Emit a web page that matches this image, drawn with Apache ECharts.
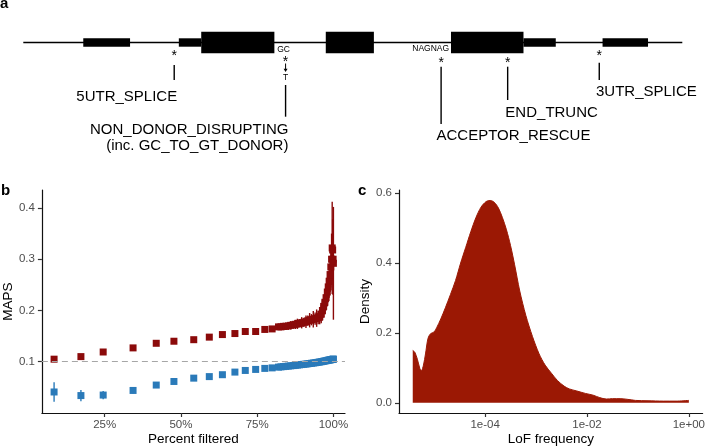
<!DOCTYPE html>
<html><head><meta charset="utf-8">
<script src="https://cdn.jsdelivr.net/npm/echarts@6/dist/echarts.min.js"></script>
<style>html,body{margin:0;padding:0;background:#fff}#c{width:708px;height:447px}</style>
</head><body><div id="c"></div>
<script>
// ================= DATA =================
// Panel a: gene model (arbitrary gene coordinates 0..geneLength)
const geneLength = 1000;
const exonStart = [91, 236, 270, 459, 649, 759, 879];
const exonEnd   = [162, 270, 381, 532, 759, 808, 948];
const exonKind  = ['UTR', 'UTR', 'CDS', 'CDS', 'CDS', 'UTR', 'UTR'];
const annotNames = ['5UTR_SPLICE', 'NON_DONOR_DISRUPTING\n(inc. GC_TO_GT_DONOR)', 'ACCEPTOR_RESCUE', 'END_TRUNC', '3UTR_SPLICE'];
const annotPos   = [229, 398, 634, 735, 874];
const annotSeqAbove = ['', 'GC', 'NAGNAG', '', ''];
const annotSeqBelow = ['', 'T', '', '', ''];

// Panel b: MAPS vs percent filtered
const pctFiltered = [8.4, 17.2, 24.5, 34.3, 41.9, 47.7, 54.2, 59.3, 63.6, 67.7, 71.1, 74.5, 77.5, 79.9,
  82.0, 82.8, 83.6, 84.4, 85.2, 86.0, 86.8, 87.5, 88.2, 88.9, 89.6, 90.3, 91.0, 91.6, 92.2, 92.8, 93.4, 94.0,
  94.5, 95.0, 95.5, 96.0, 96.4, 96.8, 97.2, 97.6, 98.0, 98.3, 98.6, 98.9, 99.15, 99.4, 99.6, 99.75, 99.9, 100.0];
const redMaps = [0.105, 0.110, 0.119, 0.127, 0.136, 0.140, 0.143, 0.148, 0.153, 0.155, 0.159, 0.159, 0.163, 0.164,
  0.168, 0.168, 0.169, 0.169, 0.170, 0.171, 0.172, 0.173, 0.174, 0.175, 0.176, 0.177, 0.178, 0.180, 0.181, 0.182, 0.183, 0.184,
  0.185, 0.186, 0.188, 0.193, 0.200, 0.208, 0.216, 0.225, 0.236, 0.246, 0.257, 0.270, 0.285, 0.300, 0.322, 0.318, 0.300, 0.292];
const redErr = [0.005, 0.005, 0.005, 0.005, 0.005, 0.005, 0.005, 0.005, 0.005, 0.005, 0.005, 0.005, 0.005, 0.005,
  0.006, 0.006, 0.007, 0.006, 0.007, 0.008, 0.007, 0.009, 0.010, 0.008, 0.011, 0.009, 0.012, 0.010, 0.014, 0.011, 0.016, 0.012,
  0.017, 0.013, 0.015, 0.018, 0.020, 0.022, 0.024, 0.025, 0.028, 0.030, 0.032, 0.034, 0.040, 0.050, 0.090, 0.060, 0.070, 0.110];
const blueMaps = [0.041, 0.034, 0.035, 0.044, 0.0545, 0.0615, 0.068, 0.071, 0.0747, 0.0798, 0.083, 0.085, 0.087, 0.088,
  0.0895, 0.090, 0.0905, 0.091, 0.0915, 0.092, 0.0925, 0.093, 0.0935, 0.094, 0.0945, 0.095, 0.0955, 0.096, 0.0965, 0.097, 0.0975, 0.098,
  0.0985, 0.099, 0.0995, 0.100, 0.1005, 0.101, 0.1015, 0.102, 0.1025, 0.103, 0.1033, 0.1036, 0.104, 0.1043, 0.1045, 0.1047, 0.1048, 0.105];
const blueErr = [0.019, 0.011, 0.008, 0.006, 0.005, 0.004, 0.004, 0.003, 0.003, 0.003, 0.003, 0.003, 0.003, 0.003,
  0.002, 0.002, 0.002, 0.002, 0.002, 0.002, 0.002, 0.002, 0.002, 0.002, 0.002, 0.002, 0.002, 0.002, 0.002, 0.002, 0.002, 0.002,
  0.002, 0.002, 0.002, 0.002, 0.002, 0.002, 0.002, 0.002, 0.002, 0.002, 0.002, 0.002, 0.002, 0.002, 0.002, 0.002, 0.002, 0.002];
const mapsReference = 0.105;
const bXTicks = [25, 50, 75, 100];
const bYTicks = [0.1, 0.2, 0.3, 0.4];

// Panel c: density of LoF frequency (log10 x)
const lofFreq = [3.80e-6, 4.17e-6, 4.68e-6, 5.25e-6, 5.62e-6, 6.17e-6, 6.76e-6, 7.59e-6, 8.51e-6, 1.00e-5,
  1.12e-5, 1.35e-5, 1.66e-5, 2.09e-5, 2.63e-5, 3.31e-5, 4.17e-5, 5.25e-5, 6.61e-5, 8.32e-5,
  1.05e-4, 1.26e-4, 1.51e-4, 1.82e-4, 2.19e-4, 2.63e-4, 3.16e-4, 3.80e-4, 4.79e-4, 6.31e-4,
  8.51e-4, 1.15e-3, 1.51e-3, 2.00e-3, 2.63e-3, 3.55e-3, 4.47e-3, 6.31e-3, 9.33e-3, 1.32e-2,
  1.78e-2, 2.40e-2, 3.16e-2, 4.47e-2, 6.31e-2, 8.91e-2, 0.158, 0.316, 0.562, 1.0];
const lofDensity = [0.150, 0.145, 0.125, 0.098, 0.092, 0.108, 0.140, 0.185, 0.198, 0.203,
  0.215, 0.240, 0.272, 0.310, 0.350, 0.400, 0.445, 0.490, 0.530, 0.560,
  0.576, 0.579, 0.574, 0.558, 0.530, 0.495, 0.450, 0.395, 0.320, 0.250,
  0.190, 0.140, 0.108, 0.085, 0.064, 0.048, 0.040, 0.034, 0.027, 0.022,
  0.015, 0.011, 0.012, 0.012, 0.010, 0.007, 0.006, 0.005, 0.005, 0.007];
const cXTicks = [1e-4, 1e-2, 1];
const cYTicks = [0, 0.2, 0.4, 0.6];

// ================= STYLE / LAYOUT =================
const FONT = '"Liberation Sans", Arial, Helvetica, sans-serif';
const RED_B = '#8b0a0a';
const BLUE_B = '#2a7ab9';
const RED_C = '#9b1804';
const DIAG = { baseY: 42.5, cdsH: 21.6, utrH: 8.4 };
const annotLayout = [
  { star: 53.3, lineTop: 65, lineBot: 80, labelY: 96.7, align: 'right', dx: 3 },
  { star: 59.3, lineTop: 85, lineBot: 116.7, labelY: 138, align: 'right', dx: 2.8, aboveY: 50, aboveDx: -2, arrowTop: 63.5, arrowBot: 72, belowY: 77.5 },
  { star: 60, lineTop: 66.7, lineBot: 124, labelY: 136, align: 'left', dx: -4.6, aboveY: 49, aboveDx: 8, aboveAlign: 'right' },
  { star: 60, lineTop: 66.7, lineBot: 100, labelY: 113.3, align: 'left', dx: -2.3 },
  { star: 53.3, lineTop: 62.7, lineBot: 80, labelY: 91.7, align: 'left', dx: -3.3 }
];

function baseAxis(gridIndex) {
  return {
    gridIndex,
    axisLine: { show: true, onZero: false, lineStyle: { color: '#111', width: 1.2 } },
    axisTick: { show: true, length: 4, lineStyle: { color: '#333', width: 1.2 } },
    axisLabel: { color: '#4d4d4d', fontSize: 11.5, fontFamily: FONT, margin: 6 },
    splitLine: { show: false },
    nameLocation: 'middle',
    nameTextStyle: { color: '#000', fontSize: 13.5, fontFamily: FONT }
  };
}

function expLabel(v) {
  const e = Math.round(Math.log10(v));
  const s = e < 0 ? '-' : '+';
  const a = Math.abs(e);
  return '1e' + s + (a < 10 ? '0' + a : a);
}

const chart = echarts.init(document.getElementById('c'), null, { renderer: 'canvas' });

const xAxes = [
  { gridIndex: 0, type: 'value', min: 0, max: geneLength, show: false },
  Object.assign(baseAxis(1), {
    type: 'value', min: 4.4, max: 103.8, name: 'Percent filtered', nameGap: 18
  }),
  Object.assign(baseAxis(2), {
    type: 'log', logBase: 10, min: Math.pow(10, -5.69), max: Math.pow(10, 0.27), name: 'LoF frequency', nameGap: 18
  })
];
xAxes[1].axisTick.customValues = bXTicks;
xAxes[1].axisLabel.customValues = bXTicks;
xAxes[1].axisLabel.formatter = v => Math.round(v) + '%';
xAxes[2].axisTick.customValues = cXTicks;
xAxes[2].axisLabel.customValues = cXTicks;
xAxes[2].axisLabel.formatter = v => expLabel(v);
xAxes[2].minorTick = { show: false };

const yAxes = [
  { gridIndex: 0, type: 'value', min: 0, max: 160, inverse: true, show: false },
  Object.assign(baseAxis(1), { type: 'value', min: 0, max: 0.435, name: 'MAPS', nameGap: 26 }),
  Object.assign(baseAxis(2), { type: 'value', min: -0.029, max: 0.609, name: 'Density', nameGap: 26 })
];
yAxes[1].axisTick.customValues = bYTicks;
yAxes[1].axisLabel.customValues = bYTicks;
yAxes[1].axisLabel.formatter = v => v.toFixed(1);
yAxes[1].axisLabel.margin = 7;
yAxes[2].axisTick.customValues = cYTicks;
yAxes[2].axisLabel.customValues = cYTicks;
yAxes[2].axisLabel.formatter = v => v.toFixed(1);
yAxes[2].axisLabel.margin = 7;

function errorBarSeries(vals, errs, color, z) {
  return {
    type: 'custom', xAxisIndex: 1, yAxisIndex: 1, z, silent: true,
    data: pctFiltered.map((x, i) => [x, vals[i] - errs[i], vals[i] + errs[i]]),
    encode: { x: 0, y: [1, 2] },
    renderItem: (params, api) => {
      const p0 = api.coord([api.value(0), api.value(1)]);
      const p1 = api.coord([api.value(0), api.value(2)]);
      return { type: 'line', shape: { x1: p0[0], y1: p0[1], x2: p1[0], y2: p1[1] },
        style: { stroke: color, lineWidth: 1.4 } };
    }
  };
}

const option = {
  animation: false,
  backgroundColor: '#fff',
  grid: [
    { left: 23.3, top: 0, width: 659, height: 160 },
    { left: 40, top: 190, width: 305, height: 223 },
    { left: 399, top: 190, width: 306.7, height: 223 }
  ],
  xAxis: xAxes,
  yAxis: yAxes,
  graphic: [
    { type: 'text', left: 0, top: -4, style: { text: 'a', font: 'bold 15px ' + FONT, fill: '#000' } },
    { type: 'text', left: 1, top: 183, style: { text: 'b', font: 'bold 15px ' + FONT, fill: '#000' } },
    { type: 'text', left: 358, top: 183, style: { text: 'c', font: 'bold 15px ' + FONT, fill: '#000' } }
  ],
  series: [
    // gene baseline
    {
      type: 'custom', xAxisIndex: 0, yAxisIndex: 0, silent: true, z: 1,
      data: [[0, geneLength]],
      renderItem: (params, api) => {
        const p0 = api.coord([api.value(0), DIAG.baseY]);
        const p1 = api.coord([api.value(1), DIAG.baseY]);
        return { type: 'line', shape: { x1: p0[0], y1: p0[1], x2: p1[0], y2: p1[1] }, style: { stroke: '#000', lineWidth: 1.3 } };
      }
    },
    // exons
    {
      type: 'custom', xAxisIndex: 0, yAxisIndex: 0, silent: true, z: 2,
      data: exonStart.map((s, i) => [s, exonEnd[i], i]),
      renderItem: (params, api) => {
        const i = api.value(2);
        const h = exonKind[i] === 'CDS' ? DIAG.cdsH : DIAG.utrH;
        const p0 = api.coord([api.value(0), DIAG.baseY]);
        const p1 = api.coord([api.value(1), DIAG.baseY]);
        return { type: 'rect', shape: { x: p0[0], y: p0[1] - h / 2, width: p1[0] - p0[0], height: h }, style: { fill: '#000' } };
      }
    },
    // annotations
    {
      type: 'custom', xAxisIndex: 0, yAxisIndex: 0, silent: true, z: 3,
      data: annotPos.map((p, i) => [p, i]),
      renderItem: (params, api) => {
        const i = api.value(1);
        const L = annotLayout[i];
        const x = api.coord([api.value(0), 0])[0];
        const Y = v => api.coord([api.value(0), v])[1];
        const children = [];
        children.push({ type: 'text', style: { text: '*', x: x, y: Y(L.star) + 3, align: 'center', verticalAlign: 'middle', font: '14px ' + FONT, fill: '#000' } });
        children.push({ type: 'line', shape: { x1: x, y1: Y(L.lineTop), x2: x, y2: Y(L.lineBot) }, style: { stroke: '#000', lineWidth: 1.4 } });
        children.push({ type: 'text', style: { text: annotNames[i], x: x + L.dx, y: Y(L.labelY), align: L.align, verticalAlign: 'middle', font: '15px ' + FONT, lineHeight: 15.7, fill: '#000' } });
        if (annotSeqAbove[i]) {
          children.push({ type: 'text', style: { text: annotSeqAbove[i], x: x + L.aboveDx, y: Y(L.aboveY), align: L.aboveAlign || 'center', verticalAlign: 'middle', font: '8.5px ' + FONT, fill: '#000' } });
        }
        if (annotSeqBelow[i]) {
          const a0 = Y(L.arrowTop), a1 = Y(L.arrowBot);
          children.push({ type: 'line', shape: { x1: x, y1: a0, x2: x, y2: a1 - 2.5 }, style: { stroke: '#000', lineWidth: 1 } });
          children.push({ type: 'polygon', shape: { points: [[x - 2, a1 - 3.2], [x + 2, a1 - 3.2], [x, a1]] }, style: { fill: '#000' } });
          children.push({ type: 'text', style: { text: annotSeqBelow[i], x: x, y: Y(L.belowY), align: 'center', verticalAlign: 'middle', font: '8.5px ' + FONT, fill: '#000' } });
        }
        return { type: 'group', children };
      }
    },
    // panel b
    Object.assign(errorBarSeries(blueMaps, blueErr, BLUE_B, 2), {
      markLine: {
        silent: true, symbol: ['none', 'none'], label: { show: false },
        lineStyle: { color: '#a6a6a6', type: [6, 4], width: 1 },
        data: [{ yAxis: mapsReference }]
      }
    }),
    { type: 'scatter', xAxisIndex: 1, yAxisIndex: 1, symbol: 'rect', symbolSize: 7, z: 3, silent: true,
      itemStyle: { color: BLUE_B, opacity: 1 }, data: pctFiltered.map((x, i) => [x, blueMaps[i]]) },
    errorBarSeries(redMaps, redErr, RED_B, 2),
    { type: 'scatter', xAxisIndex: 1, yAxisIndex: 1, symbol: 'rect', symbolSize: 7, z: 3, silent: true,
      itemStyle: { color: RED_B, opacity: 1 }, data: pctFiltered.map((x, i) => [x, redMaps[i]]) },
    // panel c
    { type: 'line', xAxisIndex: 2, yAxisIndex: 2, symbol: 'none', smooth: 0.3, silent: true,
      lineStyle: { color: RED_C, width: 1 }, areaStyle: { color: RED_C, opacity: 1 },
      data: lofFreq.map((f, i) => [f, lofDensity[i]]) }
  ]
};
chart.setOption(option);
</script>
</body></html>
